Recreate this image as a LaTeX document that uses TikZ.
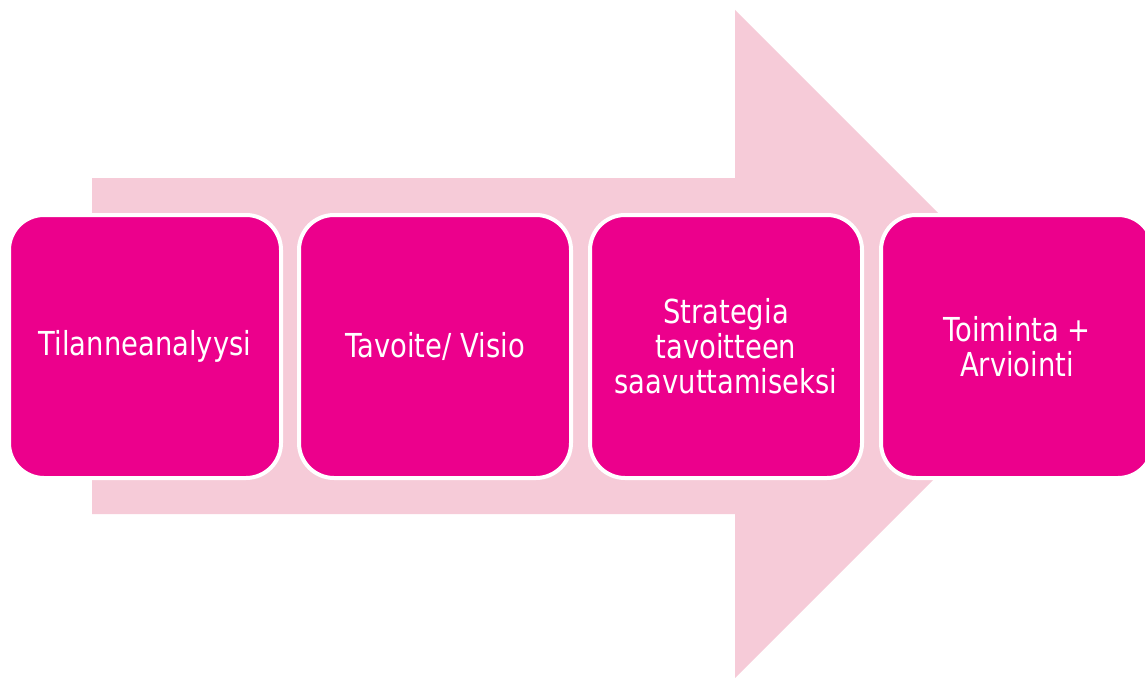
\documentclass[tikz,border=0pt]{standalone}
\usepackage{fontspec}
\newfontfamily\boxfont[FakeStretch=0.83]{DejaVu Sans}
\usepackage{tikz}

\definecolor{arrowpink}{RGB}{246,203,216}
\definecolor{boxmagenta}{RGB}{236,0,140}

\tikzset{
  stepbox/.style={draw=white, line width=4pt, fill=boxmagenta, rounded corners=35pt,
    minimum width=272pt, minimum height=263pt, align=center, text=white,
    font=\boxfont\fontsize{33}{35}\selectfont}
}

\begin{document}
\begin{tikzpicture}[line cap=round, line join=round, x=1pt, y=-1pt]
                \clip (0,0) rectangle (1145,677);
                \coordinate (a) at (92,178);
                \coordinate (b) at (735,178);
                \coordinate (c) at (735,10);
                \coordinate (d) at (1069,344);
                \coordinate (e) at (735,678);
                \coordinate (f) at (735,514);
                \coordinate (g) at (92,514);
                \fill[arrowpink] (a) -- (b) -- (c) -- (d) -- (e) -- (f) -- (g) -- cycle;
                \node[stepbox] (analyysi) at (145,346.5) {Tilanneanalyysi};
                \node[stepbox] (visio) at (435,346.5) {Tavoite/ Visio};
                \node[stepbox] (strategia) at (726,346.5) {Strategia\\tavoitteen\\saavuttamiseksi};
                \node[stepbox] (toiminta) at (1017,346.5) {Toiminta +\\Arviointi};
            \end{tikzpicture}
\end{document}
